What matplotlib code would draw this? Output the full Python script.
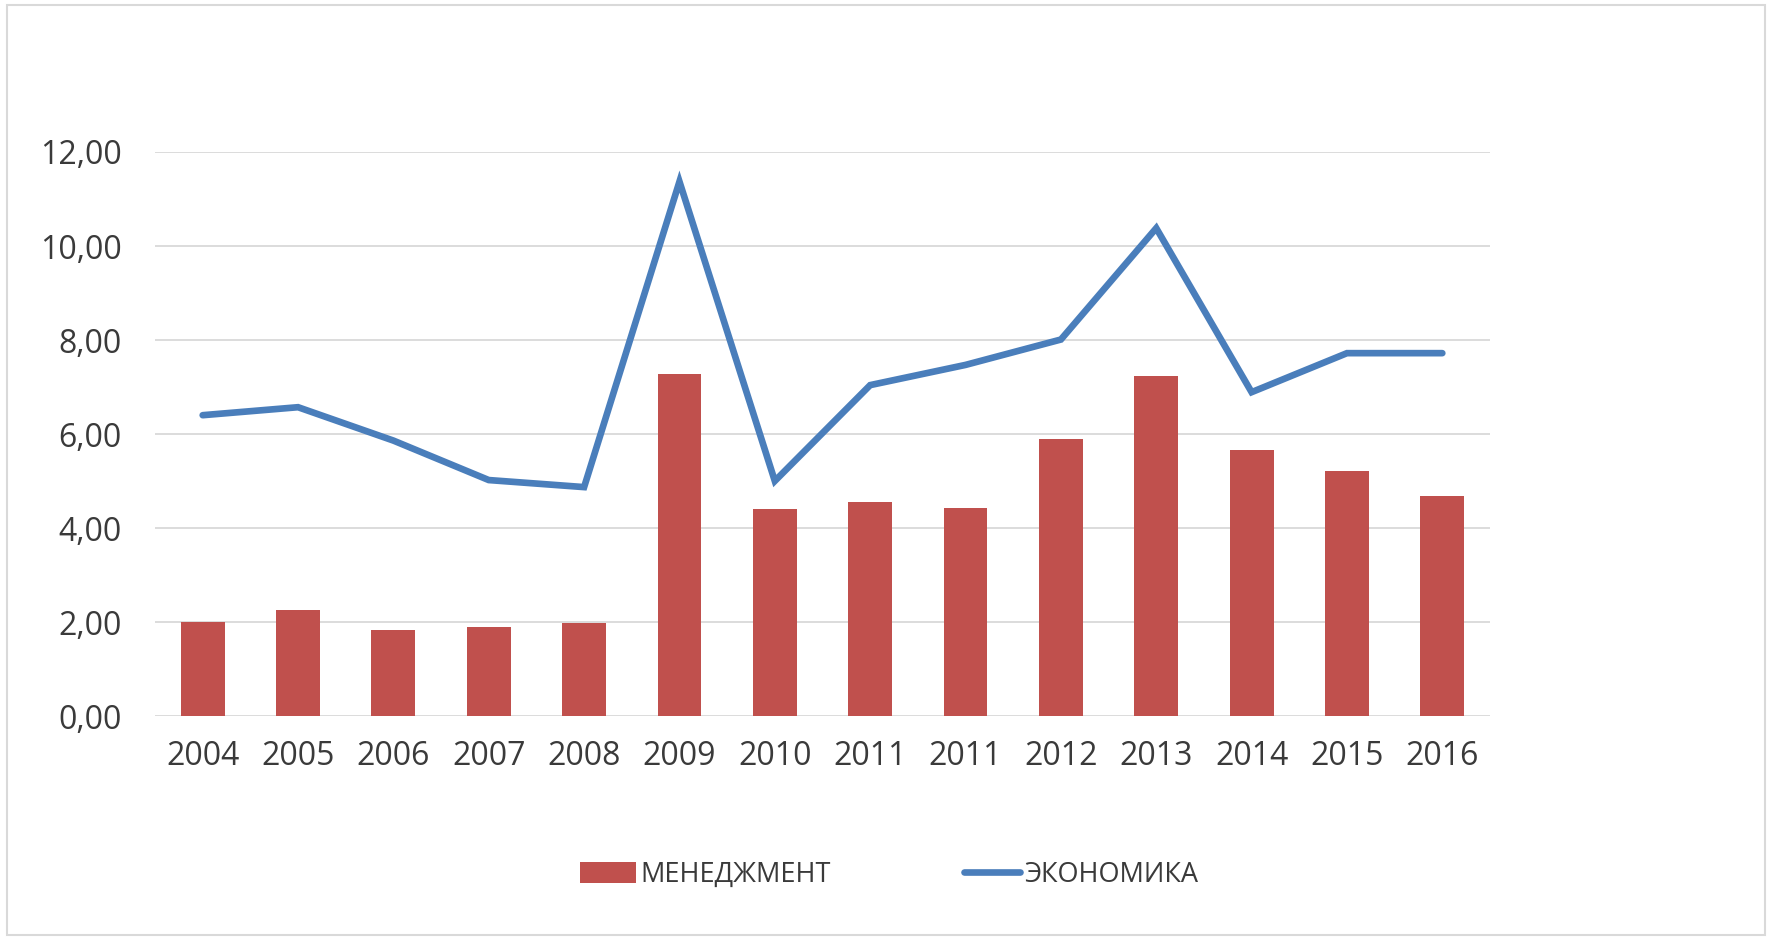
import numpy as np
import matplotlib
matplotlib.use("Agg")
import matplotlib.pyplot as plt
from matplotlib.patches import Rectangle, Patch
from matplotlib.lines import Line2D
from matplotlib.ticker import FuncFormatter

# data
years = ["2004", "2005", "2006", "2007", "2008", "2009", "2010",
         "2011", "2011", "2012", "2013", "2014", "2015", "2016"]
management = [1.99, 2.26, 1.83, 1.89, 1.98, 7.28, 4.40,
              4.55, 4.43, 5.90, 7.23, 5.67, 5.21, 4.69]
economics = [6.40, 6.57, 5.86, 5.02, 4.87, 11.37, 5.00,
             7.04, 7.47, 8.01, 10.38, 6.89, 7.72, 7.72]
yticks = [0, 2, 4, 6, 8, 10, 12]

bar_color = "#C0504D"
line_color = "#4A7EBB"
grid_color = "#D9D9D9"
text_color = "#3A3A3A"

plt.rcParams['font.family'] = ['Open Sans', 'DejaVu Sans']

fig = plt.figure(figsize=(17.67, 9.38), dpi=100)
ax = fig.add_axes([155/1767, 1-716/938, (1490-155)/1767, (716-152)/938])

x = np.arange(len(years))
ax.bar(x, management, width=0.46, color=bar_color, zorder=2)
ax.plot(x, economics, color=line_color, lw=4.8, solid_capstyle='round',
        solid_joinstyle='miter', zorder=3)

ax.set_xlim(-0.5, len(years)-0.5)
ax.set_ylim(0, 12)
ax.set_yticks(yticks)
ax.yaxis.set_major_formatter(FuncFormatter(lambda v, p: f"{v:.2f}".replace(".", ",")))
ax.set_xticks(x)
ax.set_xticklabels(years)
ax.tick_params(axis='both', length=0, labelsize=23, colors=text_color)
ax.tick_params(axis='y', pad=24)
ax.tick_params(axis='x', pad=17)
ax.grid(axis='y', color=grid_color, lw=1.3, zorder=0)
ax.set_axisbelow(True)
for s in ax.spines.values():
    s.set_visible(False)

handles = [Patch(facecolor=bar_color, edgecolor='none', label="МЕНЕДЖМЕНТ"),
           Line2D([0], [0], color=line_color, lw=4.8, solid_capstyle='round', label="ЭКОНОМИКА")]
fig.legend(handles=handles, loc='center', bbox_to_anchor=(889/1767, 1-875/938), ncol=2,
           frameon=False, fontsize=19.5, labelcolor=text_color, handlelength=2.1,
           handleheight=0.85, handletextpad=0.15, columnspacing=4.9)

# light frame around the chart area
fig.patches.append(Rectangle((7/1767, 3/938), 1758/1767, 930/938, transform=fig.transFigure,
                             fill=False, edgecolor=grid_color, lw=1.5))

fig.savefig("out.png", dpi=100)
